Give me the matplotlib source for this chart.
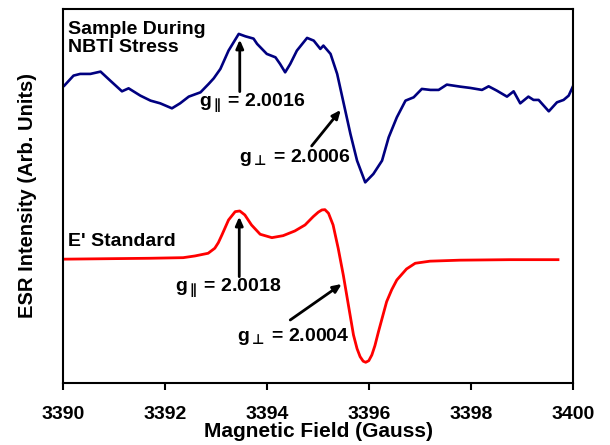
import matplotlib
matplotlib.use("Agg")
import matplotlib.pyplot as plt

plt.rcParams["font.family"] = ["Liberation Sans", "DejaVu Sans"]
plt.rcParams["font.weight"] = "bold"
plt.rcParams["mathtext.fontset"] = "dejavusans"

# Sample during NBTI stress (blue trace), field in Gauss, intensity arbitrary
field_nbti = [3390.02, 3390.20, 3390.33, 3390.53, 3390.73, 3390.92, 3391.15, 3391.28,
              3391.51, 3391.71, 3391.90, 3392.13, 3392.29, 3392.46, 3392.69, 3392.85,
              3392.95, 3393.08, 3393.24, 3393.44, 3393.57, 3393.73, 3393.80, 3393.99,
              3394.16, 3394.25, 3394.35, 3394.45, 3394.58, 3394.78, 3394.91, 3395.04,
              3395.10, 3395.24, 3395.37, 3395.50, 3395.63, 3395.76, 3395.92, 3396.08,
              3396.25, 3396.38, 3396.54, 3396.71, 3396.87, 3397.03, 3397.20, 3397.36,
              3397.52, 3397.78, 3397.98, 3398.21, 3398.34, 3398.50, 3398.70, 3398.83,
              3398.96, 3399.12, 3399.22, 3399.32, 3399.52, 3399.68, 3399.81, 3399.91,
              3400.00]
esr_nbti = [297, 307, 308.7, 308.7, 311, 302, 291.3, 294.3,
            287, 282, 279.3, 274.3, 279.3, 286, 290.3, 298.7,
            304.3, 313.7, 332, 348.7, 346.3, 344, 338.7, 328.7,
            325.3, 318.7, 310.3, 318.7, 332, 344.7, 342, 333.7,
            337, 328.7, 308.7, 278.7, 248.7, 222, 200.3, 208.7,
            222, 245.3, 265.3, 282, 285.3, 293.7, 292.7, 292.7,
            298, 296, 294.7, 292.7, 296.3, 292, 286, 291.3,
            279.3, 286, 282.7, 282.7, 271.3, 280.3, 282.7, 287,
            297]

# E' standard (red trace)
field_std = [3390.00, 3391.70, 3392.35, 3392.58, 3392.84, 3392.97, 3393.04, 3393.11,
             3393.24, 3393.37, 3393.46, 3393.56, 3393.69, 3393.86, 3394.09, 3394.31,
             3394.54, 3394.74, 3394.90, 3395.00, 3395.07, 3395.13, 3395.20, 3395.29,
             3395.39, 3395.49, 3395.59, 3395.69, 3395.76, 3395.82, 3395.88, 3395.93,
             3395.99, 3396.05, 3396.11, 3396.18, 3396.26, 3396.34, 3396.44, 3396.54,
             3396.73, 3396.90, 3397.19, 3397.78, 3398.76, 3399.70]
esr_std = [123.5, 124.4, 125, 126.7, 129.4, 134.4, 140, 147.7,
           162.7, 171, 171.7, 167.7, 157.7, 148.4, 145, 147,
           151.7, 157.7, 166, 170.5, 172.7, 173, 169.4, 157.7,
           134.4, 107.7, 77.7, 47.7, 34, 26, 21.5, 20.4,
           22, 27.7, 37, 51, 66, 81, 93, 102.7,
           113.7, 119.4, 121.5, 122.5, 123, 123]

xticks = [3390, 3392, 3394, 3396, 3398, 3400]

fig = plt.figure(figsize=(6.1, 4.45), dpi=100)
ax = fig.add_axes([0.1038, 0.14, 0.836, 0.84])

ax.plot(field_nbti, esr_nbti, color="#000080", lw=1.9)
ax.plot(field_std, esr_std, color="#ff0000", lw=2)

ax.set_xlim(3390, 3400)
ax.set_ylim(0, 373.7)
ax.set_xticks(xticks)
ax.set_yticks([])
ax.tick_params(axis="x", direction="out", length=5, width=1.5, labelsize=14, pad=12)
for s in ax.spines.values():
    s.set_linewidth(1.5)

ax.set_xlabel("Magnetic Field (Gauss)", fontsize=15, fontweight="bold", labelpad=-1)
ax.set_ylabel("ESR Intensity (Arb. Units)", fontsize=14.5, fontweight="bold", labelpad=19)

# labels
ax.text(3390.09, 362, "Sample During\nNBTI Stress", fontsize=14, fontweight="bold",
        va="top", ha="left", linespacing=1.1)
ax.text(3390.09, 140.7, "E' Standard", fontsize=14, fontweight="bold", va="center")

ax.text(3392.66, 279.7, r"g$_{\parallel}\,$= 2.0016", fontsize=14, fontweight="bold", va="center")
ax.text(3393.44, 224.7, r"g$_{\bot}\,$= 2.0006", fontsize=14, fontweight="bold", va="center")
ax.text(3392.19, 94.7, r"g$_{\parallel}\,$= 2.0018", fontsize=14, fontweight="bold", va="center")
ax.text(3393.41, 46, r"g$_{\bot}\,$= 2.0004", fontsize=14, fontweight="bold", va="center")

arrow = dict(arrowstyle="-|>,head_length=0.5,head_width=0.22", color="black", lw=2,
             shrinkA=0, shrinkB=0)
ax.annotate("", xy=(3393.46, 343), xytext=(3393.46, 291), arrowprops=arrow)
ax.annotate("", xy=(3395.44, 272.7), xytext=(3394.87, 236.7), arrowprops=arrow)
ax.annotate("", xy=(3393.45, 166), xytext=(3393.45, 106), arrowprops=arrow)
ax.annotate("", xy=(3395.46, 98.7), xytext=(3394.45, 62.7), arrowprops=arrow)

fig.savefig("out.png", dpi=100)
